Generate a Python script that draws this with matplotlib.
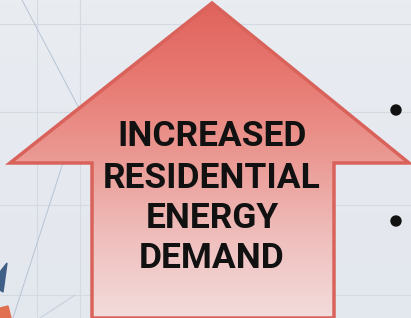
import numpy as np
import matplotlib.pyplot as plt
from matplotlib.patches import Polygon, Circle
from matplotlib.colors import LinearSegmentedColormap

# text and shapes of the illustration
lines = ["INCREASED", "RESIDENTIAL", "ENERGY", "DEMAND"]
line_y = [136, 178, 218, 258]
arrow_x = [212, 409, 334, 334, 92, 92, 10]
arrow_y = [3, 163, 163, 318, 318, 163, 163]
bullet_x = [396, 396]
bullet_y = [110, 221]
grid_v = [37, 80]
grid_h = [24, 112, 205, 295]

fig = plt.figure(figsize=(4.11, 3.18), dpi=100)
ax = fig.add_axes([0, 0, 1, 1])
ax.set_xlim(0, 411)
ax.set_ylim(318, 0)
ax.axis('off')

# background
bg = np.linspace(0, 1, 100).reshape(-1, 1)
bg_cmap = LinearSegmentedColormap.from_list("bg", ["#e9ecf1", "#e3e7ee"])
ax.imshow(bg, cmap=bg_cmap, extent=[0, 411, 318, 0], aspect='auto', zorder=0)

for x in grid_v:
    ax.plot([x, x], [0, 318], color="#d3dae4", lw=0.8, zorder=1)
for y in grid_h:
    ax.plot([0, 411], [y, y], color="#d3dae4", lw=0.8, zorder=1)
ax.plot([22, 80, 13], [0, 110, 318], color="#b8c4d4", lw=0.7, zorder=1)
ax.plot([75, 40], [295, 318], color="#c4cedb", lw=0.7, zorder=1)

# small shapes in the corner
ax.add_patch(Polygon([[0, 272], [7, 263], [3, 292], [0, 290]], closed=True,
                     color="#3f5f86", zorder=2))
ax.add_patch(Polygon([[0, 308], [8, 306], [11, 318], [0, 318]], closed=True,
                     color="#e07050", zorder=2))

# arrow with vertical gradient
pts = np.column_stack([arrow_x, arrow_y])
arrow = Polygon(pts, closed=True, facecolor="none", edgecolor="#d9625b",
                lw=2.5, joinstyle='miter', zorder=4)
ax.add_patch(arrow)
grad = np.linspace(0, 1, 256).reshape(-1, 1)
red_cmap = LinearSegmentedColormap.from_list(
    "red", ["#e0625c", "#e77a72", "#eb9a94", "#efbfbd", "#f3dcdc"])
img = ax.imshow(grad, cmap=red_cmap, extent=[0, 411, 318, 0],
                aspect='auto', zorder=3)
img.set_clip_path(arrow)

for txt, y in zip(lines, line_y):
    ax.text(212, y, txt, ha='center', va='center', fontsize=25.5,
            fontweight='bold', family='Roboto', color='#111111', zorder=5)

for x, y in zip(bullet_x, bullet_y):
    ax.add_patch(Circle((x, y), 5, color='#111111', zorder=5))

fig.savefig("out.png", dpi=100)
